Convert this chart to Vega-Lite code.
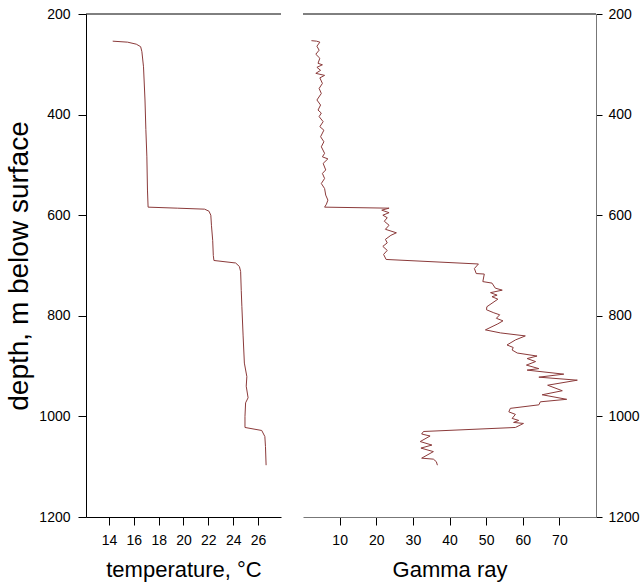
{
  "$schema": "https://vega.github.io/schema/vega-lite/v6.json",
  "padding": {"left": 5, "top": 7, "right": 5, "bottom": 5},
  "background": "white",
  "config": {
    "view": {"stroke": null},
    "font": "Liberation Sans",
    "axis": {"labelFont": "Liberation Sans", "titleFont": "Liberation Sans", "labelFontSize": 14, "labelFontWeight": "normal", "titleFontSize": 22, "titleFontWeight": "normal", "labelColor": "#000", "titleColor": "#000", "tickColor": "#000", "domainColor": "#000", "tickSize": 8, "labelPadding": 8, "grid": false}
  },
  "datasets": {
    "temp": [
      {"depth": 254, "temp": 14.3}, {"depth": 256, "temp": 15.5}, {"depth": 260, "temp": 16.2}, {"depth": 265, "temp": 16.55},
      {"depth": 275, "temp": 16.65}, {"depth": 305, "temp": 16.78}, {"depth": 371, "temp": 16.9}, {"depth": 430, "temp": 16.97},
      {"depth": 484, "temp": 17.05}, {"depth": 550, "temp": 17.1}, {"depth": 584, "temp": 17.15}, {"depth": 586, "temp": 19.5},
      {"depth": 588, "temp": 21.7}, {"depth": 592, "temp": 22.05}, {"depth": 600, "temp": 22.2}, {"depth": 620, "temp": 22.25},
      {"depth": 650, "temp": 22.35}, {"depth": 680, "temp": 22.4}, {"depth": 690, "temp": 22.45}, {"depth": 695, "temp": 24.2},
      {"depth": 702, "temp": 24.5}, {"depth": 712, "temp": 24.6}, {"depth": 750, "temp": 24.65}, {"depth": 782, "temp": 24.7},
      {"depth": 840, "temp": 24.8}, {"depth": 894, "temp": 24.9}, {"depth": 921, "temp": 25.1}, {"depth": 940, "temp": 25.05},
      {"depth": 963, "temp": 25.2}, {"depth": 973, "temp": 25.0}, {"depth": 1000, "temp": 24.95}, {"depth": 1022, "temp": 24.95},
      {"depth": 1028, "temp": 26.3}, {"depth": 1040, "temp": 26.55}, {"depth": 1060, "temp": 26.6}, {"depth": 1097, "temp": 26.65}
    ],
    "gamma": [
      {"depth": 253, "gamma": 2.3}, {"depth": 254, "gamma": 3.7}, {"depth": 256, "gamma": 4.6}, {"depth": 264, "gamma": 3.8},
      {"depth": 272, "gamma": 4.4}, {"depth": 280, "gamma": 3.5}, {"depth": 288, "gamma": 4.6}, {"depth": 298, "gamma": 4.1},
      {"depth": 301, "gamma": 5.3}, {"depth": 306, "gamma": 3.8}, {"depth": 312, "gamma": 4.8}, {"depth": 318, "gamma": 3.5},
      {"depth": 322, "gamma": 5.9}, {"depth": 327, "gamma": 4.6}, {"depth": 338, "gamma": 5.3}, {"depth": 348, "gamma": 4.4},
      {"depth": 358, "gamma": 5.0}, {"depth": 371, "gamma": 3.8}, {"depth": 381, "gamma": 4.8}, {"depth": 391, "gamma": 4.1},
      {"depth": 397, "gamma": 5.0}, {"depth": 404, "gamma": 4.4}, {"depth": 414, "gamma": 5.5}, {"depth": 424, "gamma": 4.6},
      {"depth": 431, "gamma": 5.7}, {"depth": 444, "gamma": 4.8}, {"depth": 454, "gamma": 5.7}, {"depth": 464, "gamma": 5.0},
      {"depth": 477, "gamma": 5.9}, {"depth": 484, "gamma": 5.3}, {"depth": 488, "gamma": 6.8}, {"depth": 497, "gamma": 5.5},
      {"depth": 510, "gamma": 6.2}, {"depth": 517, "gamma": 5.3}, {"depth": 527, "gamma": 5.9}, {"depth": 537, "gamma": 5.0},
      {"depth": 547, "gamma": 5.9}, {"depth": 560, "gamma": 6.2}, {"depth": 570, "gamma": 6.8}, {"depth": 578, "gamma": 6.4},
      {"depth": 584, "gamma": 5.9}, {"depth": 586, "gamma": 23.5}, {"depth": 590, "gamma": 21.5}, {"depth": 595, "gamma": 23.5},
      {"depth": 600, "gamma": 21.8}, {"depth": 605, "gamma": 23.0}, {"depth": 612, "gamma": 22.2}, {"depth": 620, "gamma": 23.5},
      {"depth": 628, "gamma": 22.5}, {"depth": 635, "gamma": 25.5}, {"depth": 640, "gamma": 24.0}, {"depth": 648, "gamma": 22.5},
      {"depth": 655, "gamma": 23.0}, {"depth": 662, "gamma": 21.8}, {"depth": 670, "gamma": 23.0}, {"depth": 678, "gamma": 22.0},
      {"depth": 688, "gamma": 22.7}, {"depth": 697, "gamma": 47.9}, {"depth": 706, "gamma": 46.8}, {"depth": 716, "gamma": 47.3},
      {"depth": 717, "gamma": 49.5}, {"depth": 732, "gamma": 49.1}, {"depth": 735, "gamma": 51.6}, {"depth": 745, "gamma": 52.5},
      {"depth": 749, "gamma": 54.4}, {"depth": 754, "gamma": 51.2}, {"depth": 759, "gamma": 53.0}, {"depth": 762, "gamma": 51.6},
      {"depth": 767, "gamma": 53.2}, {"depth": 782, "gamma": 50.2}, {"depth": 788, "gamma": 50.1}, {"depth": 794, "gamma": 52.1},
      {"depth": 798, "gamma": 53.7}, {"depth": 805, "gamma": 52.8}, {"depth": 810, "gamma": 54.6}, {"depth": 816, "gamma": 53.2},
      {"depth": 828, "gamma": 49.8}, {"depth": 834, "gamma": 53.9}, {"depth": 840, "gamma": 60.7}, {"depth": 848, "gamma": 58.0},
      {"depth": 858, "gamma": 55.7}, {"depth": 863, "gamma": 57.4}, {"depth": 868, "gamma": 57.1}, {"depth": 874, "gamma": 58.5},
      {"depth": 880, "gamma": 63.9}, {"depth": 885, "gamma": 61.2}, {"depth": 891, "gamma": 63.5}, {"depth": 898, "gamma": 61.0},
      {"depth": 905, "gamma": 64.4}, {"depth": 908, "gamma": 61.2}, {"depth": 916, "gamma": 71.2}, {"depth": 922, "gamma": 64.4},
      {"depth": 928, "gamma": 74.9}, {"depth": 938, "gamma": 66.8}, {"depth": 949, "gamma": 70.8}, {"depth": 957, "gamma": 65.3},
      {"depth": 966, "gamma": 72.0}, {"depth": 971, "gamma": 64.8}, {"depth": 977, "gamma": 64.4}, {"depth": 984, "gamma": 56.6},
      {"depth": 991, "gamma": 56.2}, {"depth": 996, "gamma": 58.0}, {"depth": 1004, "gamma": 57.1}, {"depth": 1008, "gamma": 58.9},
      {"depth": 1012, "gamma": 57.5}, {"depth": 1014, "gamma": 60.2}, {"depth": 1022, "gamma": 58.0}, {"depth": 1030, "gamma": 32.9},
      {"depth": 1035, "gamma": 32.4}, {"depth": 1039, "gamma": 34.7}, {"depth": 1050, "gamma": 32.0}, {"depth": 1057, "gamma": 35.2},
      {"depth": 1063, "gamma": 32.2}, {"depth": 1070, "gamma": 35.6}, {"depth": 1083, "gamma": 32.4}, {"depth": 1085, "gamma": 35.6},
      {"depth": 1090, "gamma": 36.4}, {"depth": 1097, "gamma": 36.7}
    ],
    "top": [{"depth": 200}]
  },
  "hconcat": [
    {
      "width": 195,
      "height": 503,
      "layer": [
        {
          "data": {"name": "top"},
          "mark": {"type": "rule", "color": "#000", "strokeWidth": 1},
          "encoding": {"y": {"field": "depth", "type": "quantitative", "scale": {"domain": [200, 1200], "reverse": true}}}
        },
        {
          "data": {"name": "temp"},
          "mark": {"type": "line", "color": "#8b3a3a", "strokeWidth": 1},
          "encoding": {
            "x": {"field": "temp", "type": "quantitative", "scale": {"domain": [12.15, 27.85], "nice": false, "zero": false},
                  "axis": {"title": "temperature, °C", "values": [14, 16, 18, 20, 22, 24, 26], "titlePadding": 12}},
            "y": {"field": "depth", "type": "quantitative", "scale": {"domain": [200, 1200], "reverse": true, "nice": false},
                  "axis": {"title": "depth, m below surface", "titleFontSize": 28, "format": "d", "values": [200, 400, 600, 800, 1000, 1200], "titlePadding": 5}},
            "order": {"value": null}
          }
        }
      ]
    },
    {
      "width": 293,
      "height": 503,
      "layer": [
        {
          "data": {"name": "top"},
          "mark": {"type": "rule", "color": "#000", "strokeWidth": 1},
          "encoding": {"y": {"field": "depth", "type": "quantitative", "scale": {"domain": [200, 1200], "reverse": true}}}
        },
        {
          "data": {"name": "gamma"},
          "mark": {"type": "line", "color": "#8b3a3a", "strokeWidth": 1},
          "encoding": {
            "x": {"field": "gamma", "type": "quantitative", "scale": {"domain": [0, 80], "nice": false},
                  "axis": {"title": "Gamma ray", "values": [10, 20, 30, 40, 50, 60, 70], "titlePadding": 12, "domainColor": "#777"}},
            "y": {"field": "depth", "type": "quantitative", "scale": {"domain": [200, 1200], "reverse": true, "nice": false},
                  "axis": {"title": null, "orient": "right", "format": "d", "values": [200, 400, 600, 800, 1000, 1200], "domainColor": "#777", "tickSize": 6, "labelPadding": 6}},
            "order": {"value": null}
          }
        }
      ]
    }
  ],
  "spacing": 20
}
